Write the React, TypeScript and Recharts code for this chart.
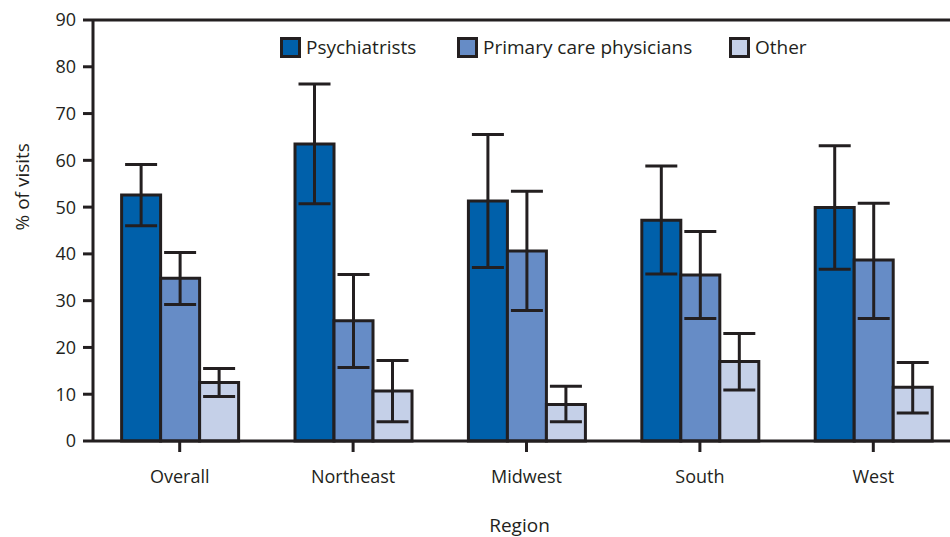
import React from "react";
import {
  BarChart,
  Bar,
  XAxis,
  YAxis,
  ErrorBar,
  ReferenceLine,
} from "recharts";

const regions = ["Overall", "Northeast", "Midwest", "South", "West"];

const psychiatrists = [52.6, 63.5, 51.3, 47.2, 49.9];
const psychLow = [46.0, 50.7, 37.1, 35.7, 36.7];
const psychHigh = [59.1, 76.3, 65.5, 58.8, 63.1];

const primaryCare = [34.8, 25.7, 40.6, 35.5, 38.7];
const pcLow = [29.2, 15.7, 27.9, 26.2, 26.2];
const pcHigh = [40.3, 35.6, 53.4, 44.8, 50.8];

const other = [12.5, 10.7, 7.8, 17.0, 11.5];
const otherLow = [9.5, 4.1, 4.1, 10.9, 6.0];
const otherHigh = [15.5, 17.2, 11.7, 23.0, 16.8];

const yTicks = [0, 10, 20, 30, 40, 50, 60, 70, 80, 90];

const series = [
  { key: "psych", name: "Psychiatrists", color: "#0060AA" },
  { key: "pc", name: "Primary care physicians", color: "#668CC6" },
  { key: "other", name: "Other", color: "#C5D0E8" },
];

const data = regions.map((region, i) => ({
  region,
  psych: psychiatrists[i],
  psychErr: [psychiatrists[i] - psychLow[i], psychHigh[i] - psychiatrists[i]],
  pc: primaryCare[i],
  pcErr: [primaryCare[i] - pcLow[i], pcHigh[i] - primaryCare[i]],
  other: other[i],
  otherErr: [other[i] - otherLow[i], otherHigh[i] - other[i]],
}));

const INK = "#231F20";
const FONT = "'Open Sans', sans-serif";

// legend drawn as an overlay so it doesn't push the plot area down
function LegendOverlay() {
  const lefts = [280, 457, 729];
  return (
    <div style={{ position: "absolute", left: 0, top: 37, fontFamily: FONT, fontSize: 19, color: INK }}>
      {series.map((s, i) => (
        <div
          key={s.key}
          style={{ position: "absolute", left: lefts[i], top: 0, display: "flex", alignItems: "center", whiteSpace: "nowrap", height: 21 }}
        >
          <span
            style={{
              display: "inline-block",
              width: 15,
              height: 15,
              background: s.color,
              border: `3px solid ${INK}`,
              marginRight: 5,
            }}
          />
          <span style={{ lineHeight: "21px" }}>{s.name}</span>
        </div>
      ))}
    </div>
  );
}

export default function App() {
  return (
    <div style={{ position: "absolute", left: 0, top: 0, width: 950, height: 537, overflow: "hidden", background: "#fff" }}>
      <BarChart
        width={960}
        height={537}
        data={data}
        margin={{ top: 20, right: 0, bottom: 0, left: 0 }}
        barCategoryGap="16.5%"
        barGap={0}
      >
        <XAxis
          dataKey="region"
          height={96}
          axisLine={{ stroke: INK, strokeWidth: 3 }}
          tickLine={{ stroke: INK, strokeWidth: 3 }}
          tickSize={11}
          tickMargin={18}
          tick={{ fill: INK, fontSize: 18, fontFamily: FONT }}
          label={{ value: "Region", position: "insideBottom", offset: 5, dx: -7, fill: INK, fontSize: 19, fontFamily: FONT }}
        />
        <YAxis
          width={93}
          domain={[0, 90]}
          ticks={yTicks}
          interval={0}
          axisLine={{ stroke: INK, strokeWidth: 3 }}
          tickLine={{ stroke: INK, strokeWidth: 3 }}
          tickSize={10}
          tickMargin={7}
          tick={{ fill: INK, fontSize: 18, fontFamily: FONT }}
          label={{ value: "% of visits", angle: -90, position: "insideLeft", offset: 22, fill: INK, fontSize: 19, fontFamily: FONT }}
        />
        <ReferenceLine y={90} stroke={INK} strokeWidth={3} />
        {series.map((s) => (
          <Bar
            key={s.key}
            dataKey={s.key}
            name={s.name}
            fill={s.color}
            stroke={INK}
            strokeWidth={3}
            isAnimationActive={false}
          >
            <ErrorBar dataKey={`${s.key}Err`} width={16} stroke={INK} strokeWidth={3} />
          </Bar>
        ))}
      </BarChart>
      <LegendOverlay />
    </div>
  );
}
